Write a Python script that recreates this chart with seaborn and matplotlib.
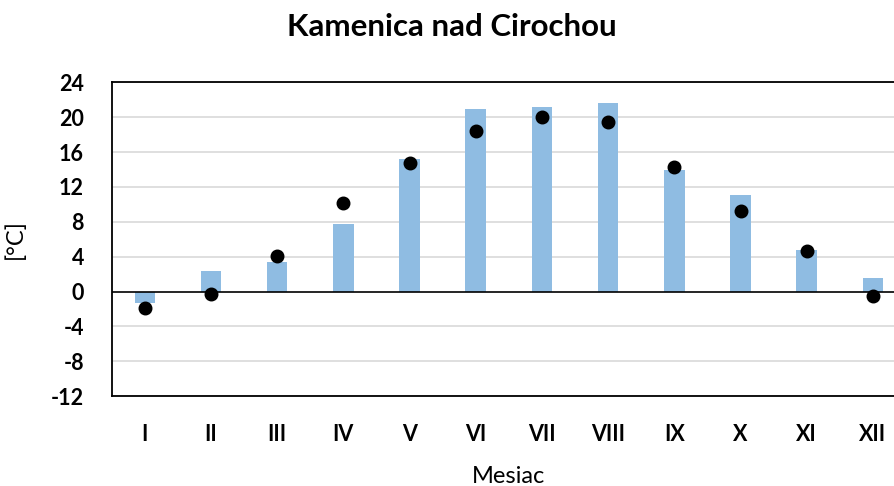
import matplotlib
matplotlib.use("Agg")
import matplotlib.pyplot as plt
import seaborn as sns

# months and values
months = ["I", "II", "III", "IV", "V", "VI", "VII", "VIII", "IX", "X", "XI", "XII"]
bar_values = [-1.3, 2.4, 3.4, 7.8, 15.2, 20.9, 21.2, 21.6, 14.0, 11.1, 4.8, 1.6]
dot_values = [-1.9, -0.3, 4.1, 10.2, 14.8, 18.4, 20.0, 19.5, 14.3, 9.2, 4.6, -0.5]
y_ticks = [-12, -8, -4, 0, 4, 8, 12, 16, 20, 24]

sns.set_style("white")
plt.rcParams["font.family"] = ["Lato", "DejaVu Sans"]
plt.rcParams["text.color"] = "black"
plt.rcParams["axes.labelcolor"] = "black"
plt.rcParams["xtick.color"] = "black"
plt.rcParams["ytick.color"] = "black"

fig = plt.figure(figsize=(8.95, 4.86), dpi=100)
ax = fig.add_axes([0.1248, 0.185, 0.8875, 0.6455])

# grid lines first so the marks sit on top
for t in y_ticks:
    if t != 0:
        ax.axhline(t, color="#d9d9d9", linewidth=1.2, zorder=0)

sns.barplot(x=months, y=bar_values, color="#8fbce2", saturation=1,
            width=0.31, linewidth=0, ax=ax, zorder=2)
ax.axhline(0, color="black", linewidth=1.2, zorder=3)
sns.pointplot(x=months, y=dot_values, color="black", linestyle="none",
              markers="o", markersize=8, ax=ax, zorder=4)

ax.set_xlim(-0.5, 11.5)
ax.set_ylim(-12, 24)
ax.set_yticks(y_ticks)
ax.set_yticklabels([str(t) for t in y_ticks], fontsize=15.5, fontweight="bold")
ax.set_xticks(range(len(months)))
ax.set_xticklabels(months, fontsize=15.5, fontweight="bold")
ax.tick_params(axis="y", length=0, pad=20)
ax.tick_params(axis="x", length=0, pad=20)

for s in ax.spines.values():
    s.set_color("black")
    s.set_linewidth(1.3)

ax.set_xlabel("Mesiac", fontsize=17, labelpad=15)
ax.set_ylabel("[°C]", fontsize=17, labelpad=18)
fig.text(0.505, 0.944, "Kamenica nad Cirochou", fontsize=22.5,
         fontweight="bold", ha="center", va="center")

fig.savefig("out.png", dpi=100)
